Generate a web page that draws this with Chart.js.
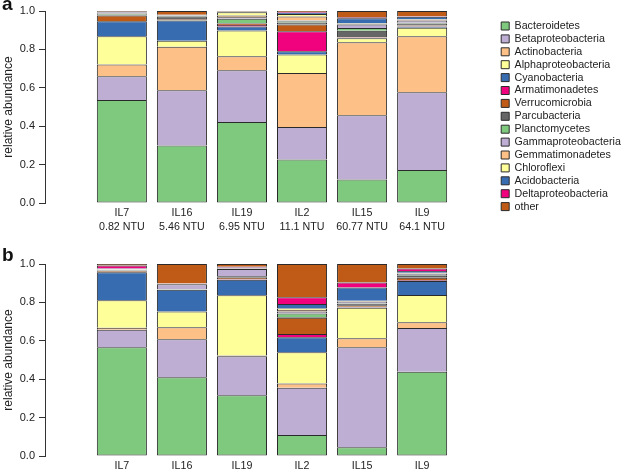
<!DOCTYPE html>
<html>
<head>
<meta charset="utf-8">
<script src="https://cdn.jsdelivr.net/npm/chart.js@4.4.0/dist/chart.umd.min.js"></script>
<style>
body { margin: 0; background: #fff; width: 621px; height: 474px; position: relative; overflow: hidden; font-family: "Liberation Sans", Arial, sans-serif; }
canvas { position: absolute; left: 0; }
#chartA { top: 0; }
#chartB { top: 240px; }
.panel { position: absolute; left: 2px; font-weight: bold; font-size: 19px; line-height: 19px; color: #111; }
</style>
</head>
<body>
<canvas id="chartA" width="621" height="240"></canvas>
<canvas id="chartB" width="621" height="234"></canvas>
<div class="panel" style="top:-6px">a</div>
<div class="panel" style="top:245px">b</div>
<script>
let taxa = ['Bacteroidetes', 'Betaproteobacteria', 'Actinobacteria', 'Alphaproteobacteria', 'Cyanobacteria',
    'Armatimonadetes', 'Verrucomicrobia', 'Parcubacteria', 'Planctomycetes', 'Gammaproteobacteria',
    'Gemmatimonadetes', 'Chloroflexi', 'Acidobacteria', 'Deltaproteobacteria', 'other'];
let colors = ['#7FC97F', '#BEAED4', '#FDC086', '#FFFF99', '#386CB0', '#F0027F', '#BF5B17', '#666666',
    '#7FC97F', '#BEAED4', '#FDC086', '#FFFF99', '#386CB0', '#F0027F', '#BF5B17'];
let samples = ['IL7', 'IL16', 'IL19', 'IL2', 'IL15', 'IL9'];
let turbidity = ['0.82 NTU', '5.46 NTU', '6.95 NTU', '11.1 NTU', '60.77 NTU', '64.1 NTU'];
let yTicks = [0, 0.2, 0.4, 0.6, 0.8, 1.0];

// panel a: one array per sample, bottom -> top in taxa order
let aIL7 = [0.536, 0.124, 0.062, 0.146, 0.078, 0.002, 0.028, 0.005, 0.003, 0.003, 0.002, 0.002, 0.003, 0.002, 0.004];
let aIL16 = [0.300, 0.287, 0.227, 0.031, 0.105, 0.002, 0.005, 0.015, 0.002, 0.002, 0.001, 0.001, 0.002, 0.001, 0.019];
let aIL19 = [0.422, 0.269, 0.073, 0.135, 0.020, 0.008, 0.008, 0.003, 0.022, 0.008, 0.008, 0.018, 0.002, 0.001, 0.003];
let aIL2 = [0.227, 0.169, 0.281, 0.097, 0.016, 0.104, 0.036, 0.010, 0.007, 0.004, 0.020, 0.014, 0.006, 0.004, 0.005];
let aIL15 = [0.123, 0.334, 0.380, 0.021, 0.002, 0.001, 0.002, 0.034, 0.014, 0.019, 0.003, 0.003, 0.026, 0.005, 0.033];
let aIL9 = [0.172, 0.405, 0.291, 0.045, 0.006, 0.002, 0.004, 0.010, 0.004, 0.012, 0.003, 0.003, 0.013, 0.003, 0.027];

// panel b
let bIL7 = [0.566, 0.092, 0.010, 0.143, 0.146, 0.002, 0.006, 0.003, 0.002, 0.002, 0.001, 0.001, 0.002, 0.016, 0.008];
let bIL16 = [0.410, 0.198, 0.062, 0.082, 0.114, 0.001, 0.001, 0.001, 0.001, 0.024, 0.001, 0.001, 0.001, 0.002, 0.101];
let bIL19 = [0.316, 0.204, 0.004, 0.313, 0.081, 0.002, 0.008, 0.008, 0.002, 0.036, 0.002, 0.002, 0.004, 0.004, 0.014];
let bIL2 = [0.109, 0.247, 0.022, 0.162, 0.078, 0.017, 0.085, 0.004, 0.018, 0.010, 0.008, 0.008, 0.024, 0.035, 0.173];
let bIL15 = [0.045, 0.521, 0.047, 0.159, 0.003, 0.002, 0.008, 0.008, 0.003, 0.006, 0.003, 0.003, 0.070, 0.025, 0.097];
let bIL9 = [0.439, 0.228, 0.029, 0.143, 0.072, 0.004, 0.014, 0.008, 0.004, 0.008, 0.003, 0.003, 0.008, 0.014, 0.023];

// bar centres as in R barplot (width 1, space 0.2)
let barX = samples.map((s, i) => 0.7 + 1.2 * i);

Chart.defaults.font.family = '"Liberation Sans", Arial, Helvetica, sans-serif';
Chart.defaults.color = '#222';

function buildDatasets(columns) {
    return taxa.map((name, k) => ({
        label: name,
        data: columns.map((col, i) => ({x: barX[i], y: col[k]})),
        backgroundColor: colors[k],
        borderColor: '#2a2a2a',
        borderWidth: 1,
        borderSkipped: k === 0 ? false : 'start',
        categoryPercentage: 1,
        barPercentage: 1 / 1.2
    }));
}

function makeChart(id, columns, xLabels, showLegend, padding, xHeight) {
    return new Chart(document.getElementById(id).getContext('2d'), {
        type: 'bar',
        data: {datasets: buildDatasets(columns)},
        options: {
            responsive: false,
            animation: false,
            layout: {padding: padding},
            plugins: {
                tooltip: {enabled: false},
                legend: {
                    display: showLegend,
                    position: 'right',
                    align: 'start',
                    maxWidth: 122,
                    // empty title only pushes the key down a little
                    title: {display: true, text: '', font: {size: 7.45, lineHeight: 1}, padding: 0},
                    labels: {boxWidth: 8, boxHeight: 8, padding: 2.2, color: '#222', font: {size: 10.7}}
                }
            },
            scales: {
                x: {
                    type: 'linear',
                    min: -0.08,
                    max: 7.48,
                    stacked: true,
                    grid: {display: false, drawTicks: false},
                    border: {display: false},
                    afterBuildTicks: (scale) => { scale.ticks = barX.map(v => ({value: v})); },
                    afterFit: (scale) => { scale.height = xHeight; },
                    ticks: {
                        autoSkip: false, maxRotation: 0, padding: 3,
                        font: {size: 10.7, lineHeight: 1.31},
                        callback: (v, i) => xLabels[i]
                    }
                },
                y: {
                    min: 0,
                    max: 1,
                    stacked: true,
                    afterBuildTicks: (scale) => { scale.ticks = yTicks.map(v => ({value: v})); },
                    afterFit: (scale) => { scale.width = 45; },
                    grid: {display: true, drawOnChartArea: false, drawTicks: true, tickLength: 6, color: '#333'},
                    border: {display: true, color: '#333'},
                    ticks: {padding: 4, font: {size: 11}, callback: v => v.toFixed(1)},
                    title: {display: true, text: 'relative abundance', font: {size: 12}, padding: {top: 1, bottom: 0}}
                }
            }
        }
    });
}

let labelsA = samples.map((s, i) => [s, turbidity[i]]);
makeChart('chartA', [aIL7, aIL16, aIL19, aIL2, aIL15, aIL9], labelsA, true,
    {top: 11, bottom: 0, left: 0, right: 0}, 37);
makeChart('chartB', [bIL7, bIL16, bIL19, bIL2, bIL15, bIL9], samples, false,
    {top: 24, bottom: 0, left: 0, right: 122}, 18);
</script>
</body>
</html>
